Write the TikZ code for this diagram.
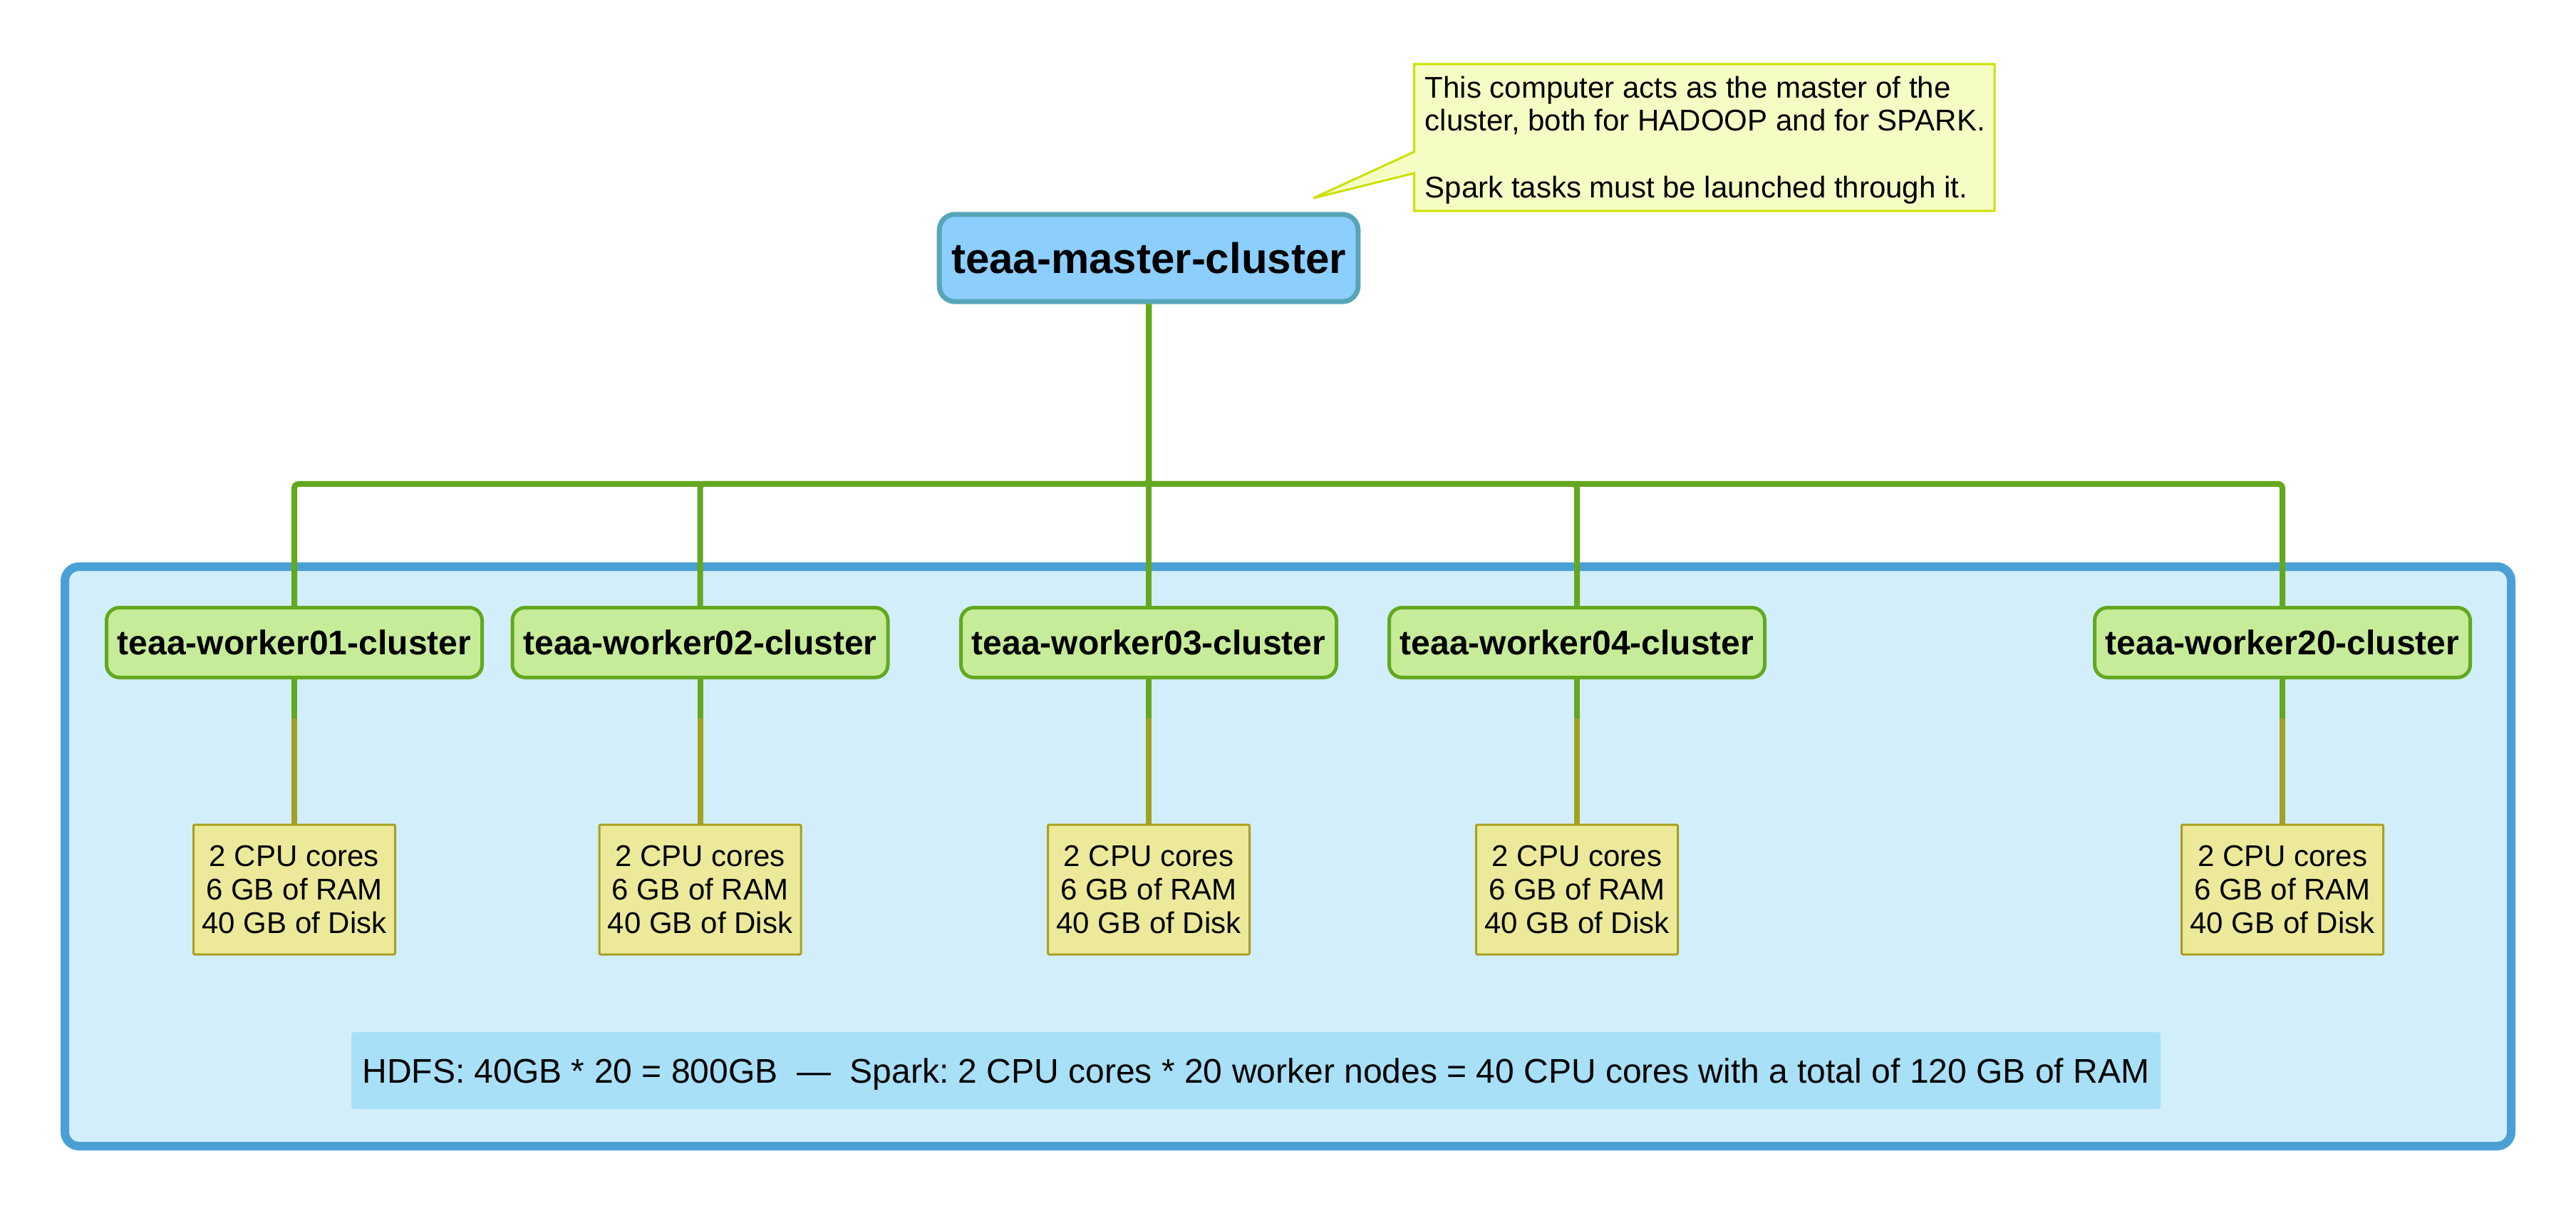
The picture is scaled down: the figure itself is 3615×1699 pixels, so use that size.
\documentclass[tikz,border=0pt]{standalone}
\usepackage{fontspec}
\setmainfont{Liberation Sans}
\frenchspacing
\definecolor{masterfill}{RGB}{140,207,255}
\definecolor{masterline}{RGB}{86,166,184}
\definecolor{workerfill}{RGB}{198,236,154}
\definecolor{greenline}{RGB}{99,168,30}
\definecolor{oliveline}{RGB}{162,160,32}
\definecolor{specfill}{RGB}{236,234,154}
\definecolor{specline}{RGB}{168,160,32}
\definecolor{groupfill}{RGB}{210,238,251}
\definecolor{groupline}{RGB}{74,160,212}
\definecolor{sumfill}{RGB}{168,224,248}
\definecolor{notefill}{RGB}{246,253,196}
\definecolor{noteline}{RGB}{204,224,0}
\begin{document}
\begin{tikzpicture}[x=0.25pt,y=-0.25pt,
  masterbox/.style={draw=masterline, fill=masterfill, line width=1.75pt, rounded corners=5.5pt,
    minimum width=146.9pt, minimum height=30.6pt, inner sep=0pt,
    font=\fontsize{15pt}{18pt}\selectfont\bfseries},
  workerbox/.style={draw=greenline, fill=workerfill, line width=1.25pt, rounded corners=4.5pt,
    minimum width=131.75pt, minimum height=24.5pt, inner sep=0pt,
    font=\fontsize{12pt}{14pt}\selectfont\bfseries},
  specbox/.style={draw=specline, fill=specfill, line width=0.75pt, rounded corners=0.5pt,
    minimum width=70.75pt, minimum height=45.5pt, inner sep=0pt, align=center,
    font=\fontsize{10.5pt}{11.65pt}\selectfont},
  groupbox/.style={draw=groupline, fill=groupfill, line width=3pt, rounded corners=5pt,
    minimum width=858.25pt, minimum height=203.25pt, inner sep=0pt},
  sumbox/.style={fill=sumfill, rounded corners=1pt, minimum width=634.75pt, minimum height=27pt,
    inner sep=0pt, text depth=0pt, font=\fontsize{12pt}{14pt}\selectfont},
  notetext/.style={inner sep=0pt, align=left, font=\fontsize{10.5pt}{11.5pt}\selectfont},
  conn/.style={draw=greenline, line width=2pt},
  connolive/.style={draw=oliveline, line width=2pt}
]
\useasboundingbox (0,0) rectangle (3615,1699);

% group container
\node[groupbox] (grp) at (1807.5,1201.5) {};

% master and note
\node[masterbox] (master) at (1612,362) {teaa-master-cluster};
\draw[draw=noteline, fill=notefill, line width=0.75pt]
  (1984.5,90) -- (2799,90) -- (2799,296) -- (1984.5,296) -- (1984.5,243)
  -- (1843,278) -- (1984.5,213) -- cycle;
\node[notetext, anchor=base west] (note) at (1999,278)
  {This computer acts as the master of the\\cluster, both for HADOOP and for SPARK.\\[12pt]Spark tasks must be launched through it.};

% workers and specs
\foreach \n/\x/\lab in {1/413/01, 2/982.5/02, 3/1612/03, 4/2213/04, 5/3203/20} {
  \node[workerbox] (w\n) at (\x,901.5) {teaa-worker\lab-cluster};
  \node[specbox] (s\n) at (\x,1248) {2 CPU cores\\6 GB of RAM\\40 GB of Disk};
}

% summary
\node[sumbox] (sum) at (1762.5,1502)
  {HDFS: 40GB * 20 = 800GB~~—~~Spark: 2 CPU cores * 20 worker nodes = 40 CPU cores with a total of 120 GB of RAM};

% connectors
\coordinate (bus) at (1612,679);
\coordinate (lvl) at (0,1008);
\foreach \n in {1,2,4,5}
  \draw[conn, rounded corners=1.5pt] (master.south) -- (bus) -| (w\n.north);
\draw[conn] (master.south) -- (w3.north);
\foreach \n in {1,...,5} {
  \draw[conn] (w\n.south) -- (w\n.south |- lvl);
  \draw[connolive] (w\n.south |- lvl) -- (s\n.north);
}
\end{tikzpicture}
\end{document}
